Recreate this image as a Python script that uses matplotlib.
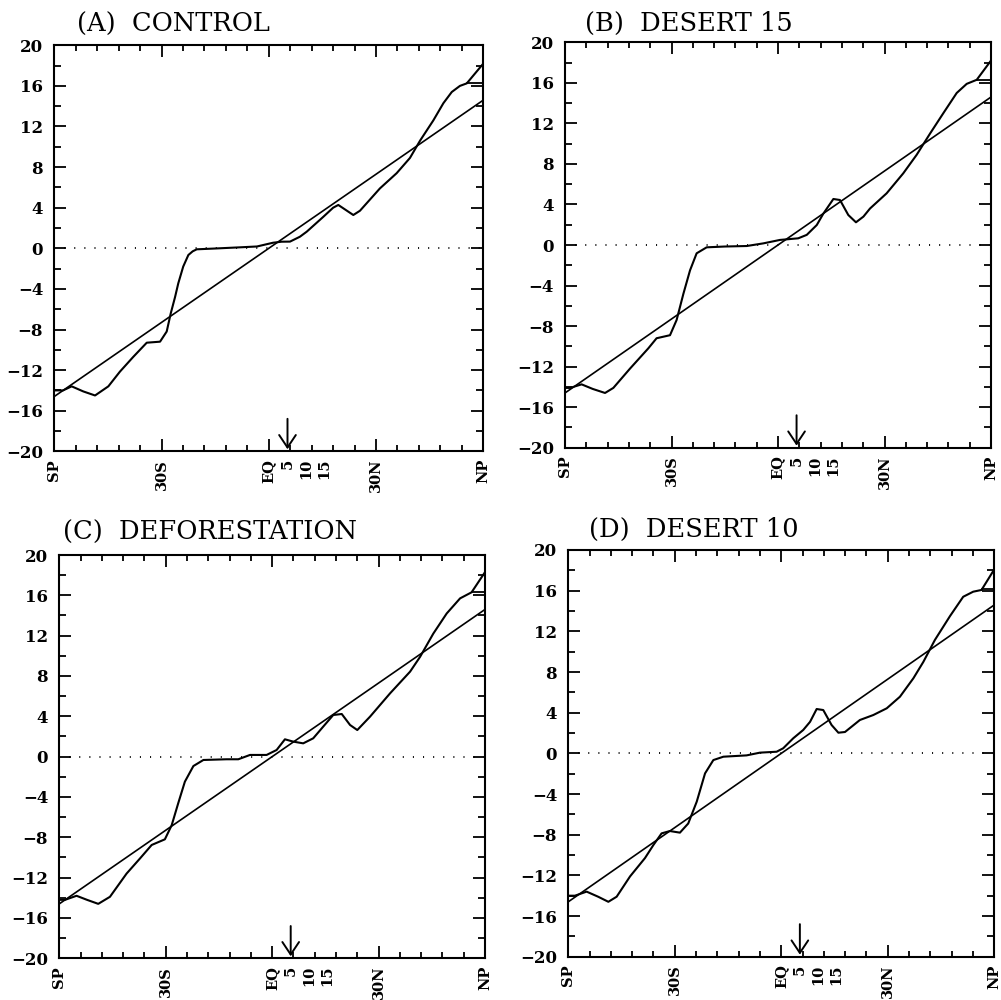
import numpy as np
import matplotlib.pyplot as plt
from matplotlib.ticker import MultipleLocator, FixedLocator
from matplotlib.transforms import offset_copy

# x is sin(latitude), y is absolute vorticity (1e-5 s-1)
titles = ["(A)  CONTROL", "(B)  DESERT 15", "(C)  DEFORESTATION", "(D)  DESERT 10"]

mu_a = [-1.0, -0.959, -0.919, -0.865, -0.810, -0.748, -0.694, -0.632, -0.569,
        -0.507, -0.476, -0.457, -0.437, -0.422, -0.399, -0.375, -0.355, -0.336,
        -0.25, -0.13, -0.055, 0.02, 0.06, 0.099, 0.145, 0.177, 0.254, 0.30,
        0.324, 0.394, 0.425, 0.518, 0.596, 0.658, 0.705, 0.767, 0.814, 0.853,
        0.891, 0.923, 1.0]
vort_a = [-14.0, -14.0, -13.6, -14.1, -14.5, -13.6, -12.15, -10.7, -9.3,
          -9.2, -8.2, -6.4, -4.8, -3.45, -1.8, -0.66, -0.3, -0.1,
          -0.02, 0.1, 0.18, 0.55, 0.65, 0.66, 1.14, 1.64, 3.1, 4.0,
          4.27, 3.28, 3.7, 5.9, 7.4, 8.9, 10.6, 12.6, 14.3, 15.4,
          16.0, 16.25, 18.2]

mu_b = [-1.0, -0.976, -0.922, -0.87, -0.812, -0.773, -0.695, -0.609, -0.570,
        -0.507, -0.476, -0.444, -0.413, -0.382, -0.335, -0.25, -0.147, -0.069,
        0.009, 0.095, 0.135, 0.182, 0.213, 0.26, 0.291, 0.330, 0.366, 0.401,
        0.432, 0.510, 0.588, 0.651, 0.714, 0.776, 0.839, 0.886, 0.933, 1.0]
vort_b = [-14.1, -14.1, -13.75, -14.2, -14.6, -14.1, -12.2, -10.2, -9.2,
          -8.9, -7.4, -4.8, -2.5, -0.82, -0.23, -0.15, -0.1, 0.16,
          0.5, 0.66, 1.0, 1.97, 3.1, 4.54, 4.44, 2.96, 2.24, 2.8,
          3.6, 5.1, 7.07, 8.9, 11.0, 13.0, 15.0, 15.9, 16.3, 18.2]

mu_c = [-1.0, -0.973, -0.919, -0.87, -0.817, -0.762, -0.684, -0.621, -0.566,
        -0.504, -0.472, -0.441, -0.41, -0.370, -0.323, -0.214, -0.159, -0.104,
        -0.026, 0.021, 0.06, 0.099, 0.146, 0.193, 0.240, 0.287, 0.327, 0.366,
        0.40, 0.460, 0.554, 0.648, 0.695, 0.757, 0.820, 0.883, 0.937, 1.0]
vort_c = [-14.2, -14.2, -13.8, -14.2, -14.6, -13.9, -11.6, -10.1, -8.76,
          -8.2, -6.8, -4.6, -2.48, -0.93, -0.33, -0.26, -0.26, 0.17,
          0.17, 0.66, 1.72, 1.49, 1.32, 1.82, 2.98, 4.13, 4.23, 3.14,
          2.64, 3.97, 6.28, 8.43, 9.9, 12.2, 14.2, 15.7, 16.3, 18.3]

mu_d = [-1.0, -0.969, -0.914, -0.86, -0.812, -0.773, -0.71, -0.64, -0.60,
        -0.562, -0.523, -0.476, -0.437, -0.397, -0.358, -0.319, -0.272, -0.163,
        -0.10, -0.022, 0.009, 0.056, 0.103, 0.135, 0.166, 0.197, 0.236, 0.268,
        0.299, 0.369, 0.432, 0.495, 0.557, 0.620, 0.667, 0.721, 0.792, 0.854,
        0.901, 0.94, 1.0]
vort_d = [-14.0, -14.0, -13.6, -14.1, -14.6, -14.1, -12.1, -10.3, -9.0,
          -7.87, -7.64, -7.8, -6.9, -4.75, -1.97, -0.66, -0.33, -0.2,
          0.07, 0.16, 0.5, 1.48, 2.3, 3.1, 4.36, 4.26, 2.79, 2.03,
          2.1, 3.28, 3.77, 4.43, 5.57, 7.38, 9.0, 11.15, 13.5, 15.4,
          15.9, 16.07, 18.1]

# flat segment near the north pole (start mu, value)
cap_mu = [0.923, 0.933, 0.937, 0.94]
cap_val = [16.25, 16.3, 16.3, 16.2]

# planetary vorticity line (end points)
f_mu = [-1.0, 1.0]
f_val = [-14.6, 14.6]

tick_pos = [-1.0, -0.5, 0.0, 0.5, 1.0]
tick_lab = ["SP", "30S", "EQ", "30N", "NP"]
extra_lat = [5, 10, 15]
arrow_lat = 5

mus = [mu_a, mu_b, mu_c, mu_d]
vorts = [vort_a, vort_b, vort_c, vort_d]

# panel boxes in pixels: left, top, right, bottom
W, H = 1001, 1000
boxes = [(54.3, 45.3, 483.3, 451.3), (565, 42.3, 991, 447.7),
         (59.3, 555, 485, 958.3), (568.3, 550, 994.3, 956.7)]
title_xy = [(76.7, 32), (585, 31), (63, 540), (589, 537)]

fig = plt.figure(figsize=(W / 100, H / 100), dpi=100)
xfont = dict(family="DejaVu Serif", weight="bold", size=10.5)

for i in range(4):
    l, t, r, b = boxes[i]
    ax = fig.add_axes([l / W, 1 - b / H, (r - l) / W, (b - t) / H])

    ax.plot(f_mu, f_val, color="k", lw=1.2)
    ax.plot(mus[i], vorts[i], color="k", lw=1.5)
    ax.plot([cap_mu[i], 1.0], [cap_val[i], cap_val[i]], color="k", lw=1.3)
    ax.axhline(0, color="k", lw=1.3, ls=(0, (0.6, 5.0)))

    xa = np.sin(np.radians(arrow_lat))
    ax.annotate("", xy=(xa, -19.8), xytext=(xa, -16.8),
                arrowprops=dict(arrowstyle="->,head_length=0.45,head_width=0.3",
                                mutation_scale=20, lw=1.4, color="k",
                                shrinkA=0, shrinkB=0))

    ax.set_xlim(-1, 1)
    ax.set_ylim(-20, 20)
    ax.xaxis.set_major_locator(FixedLocator(tick_pos))
    ax.set_xticklabels(tick_lab, rotation=90, fontdict=xfont)
    ax.xaxis.set_minor_locator(MultipleLocator(0.1))
    ax.yaxis.set_major_locator(MultipleLocator(4))
    ax.yaxis.set_minor_locator(MultipleLocator(2))
    for lab in ax.get_yticklabels():
        lab.set_fontfamily("DejaVu Serif")
        lab.set_fontweight("bold")
        lab.set_fontsize(12)

    ax.tick_params(which="both", direction="in", top=True, right=True, width=1.3)
    ax.tick_params(axis="x", which="major", length=8.5, pad=5.5)
    ax.tick_params(axis="x", which="minor", length=4.5)
    ax.tick_params(axis="y", which="major", length=8.5, pad=8)
    ax.tick_params(axis="y", which="minor", length=5)
    for sp in ax.spines.values():
        sp.set_linewidth(1.5)

    trans = offset_copy(ax.get_xaxis_transform(), fig=fig, x=0, y=-5.5, units="points")
    for d in extra_lat:
        ax.text(np.sin(np.radians(d)), 0, str(d), transform=trans, rotation=90,
                ha="center", va="top", **xfont)

    tx, ty = title_xy[i]
    fig.text(tx / W, 1 - ty / H, titles[i], family="DejaVu Serif", size=18.5,
             ha="left", va="baseline")

fig.savefig("out.png", dpi=100)
